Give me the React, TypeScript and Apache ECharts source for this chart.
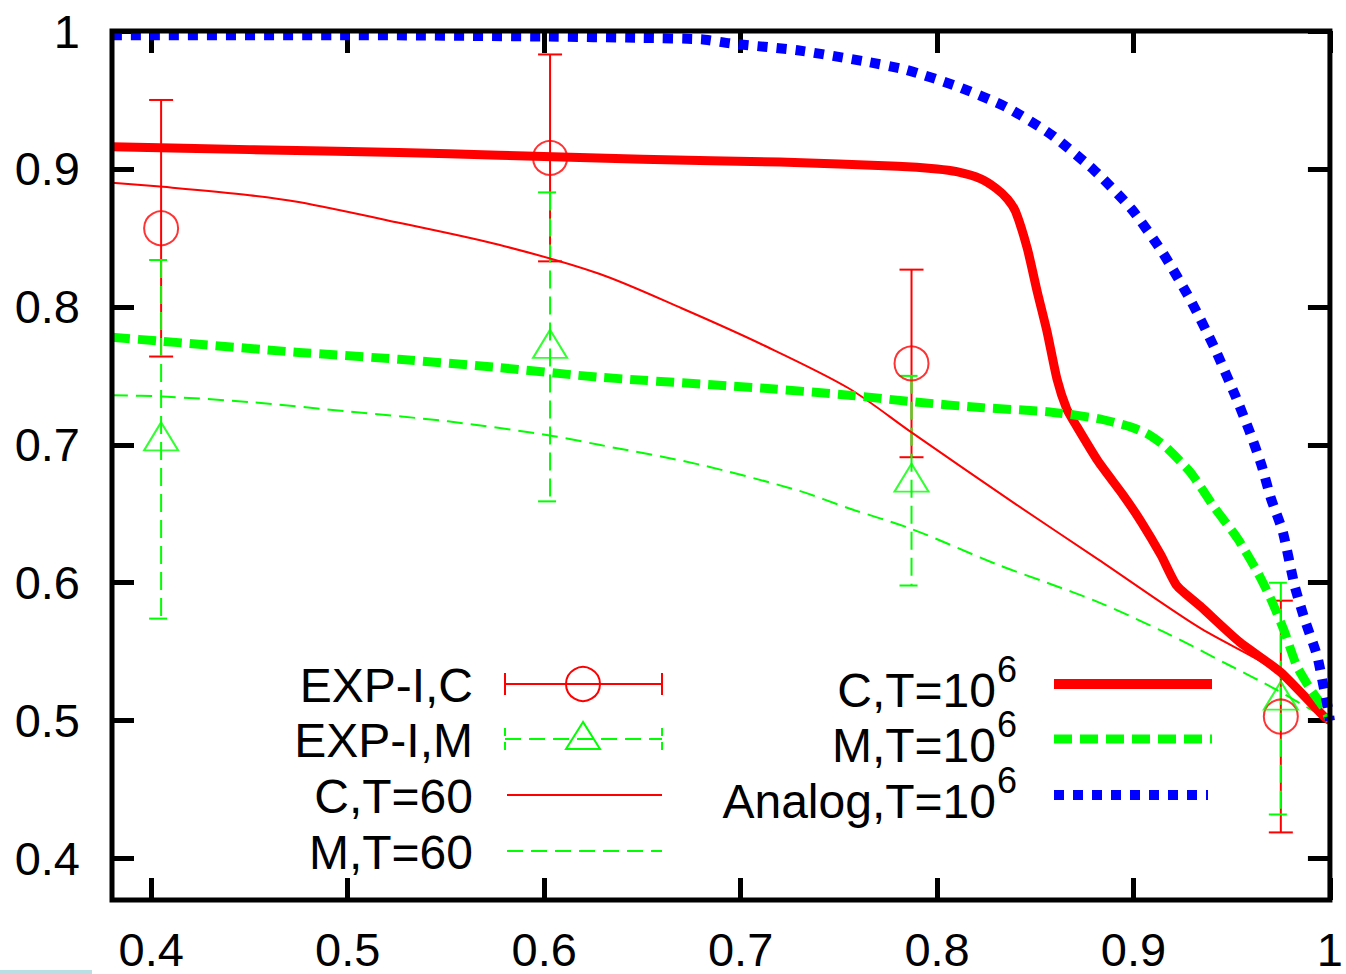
import React, { useEffect, useRef } from "react";
import * as echarts from "echarts";

const xTicks = [0.4, 0.5, 0.6, 0.7, 0.8, 0.9, 1];
const yTicks = [0.4, 0.5, 0.6, 0.7, 0.8, 0.9, 1];

// experimental points: [x, y, error]
const expC = [
  [0.405, 0.857, 0.093],
  [0.603, 0.908, 0.075],
  [0.787, 0.759, 0.068],
  [0.975, 0.503, 0.084],
];
const expM = [
  [0.405, 0.704, 0.13],
  [0.603, 0.771, 0.112],
  [0.787, 0.674, 0.076],
  [0.975, 0.516, 0.084],
];

const cT60 = [
  [0.38, 0.89], [0.406, 0.887], [0.45, 0.881], [0.475, 0.876], [0.526, 0.861],
  [0.577, 0.845], [0.628, 0.824], [0.67, 0.799], [0.712, 0.772], [0.755, 0.741],
  [0.787, 0.709], [0.84, 0.657], [0.882, 0.617], [0.933, 0.568], [0.975, 0.534],
  [1.0, 0.5],
];
const mT60 = [
  [0.38, 0.736], [0.406, 0.735], [0.45, 0.731], [0.501, 0.724], [0.551, 0.717],
  [0.602, 0.707], [0.628, 0.7], [0.678, 0.686], [0.729, 0.667], [0.755, 0.654],
  [0.787, 0.639], [0.831, 0.613], [0.856, 0.6], [0.882, 0.586], [0.916, 0.564],
  [0.949, 0.54], [0.972, 0.523], [1.0, 0.5],
];
const cT1e6 = [
  [0.38, 0.916], [0.45, 0.914], [0.526, 0.912], [0.577, 0.91], [0.65, 0.907],
  [0.72, 0.905], [0.78, 0.902], [0.8, 0.9], [0.81, 0.898], [0.822, 0.893],
  [0.83, 0.886], [0.836, 0.878], [0.84, 0.869], [0.846, 0.842], [0.851, 0.811],
  [0.856, 0.782], [0.861, 0.748], [0.866, 0.726], [0.87, 0.716], [0.882, 0.688],
  [0.895, 0.663], [0.904, 0.644], [0.914, 0.62], [0.922, 0.598], [0.934, 0.583],
  [0.954, 0.557], [0.975, 0.535], [0.997, 0.503], [1.0, 0.5],
];
const mT1e6 = [
  [0.38, 0.778], [0.406, 0.775], [0.475, 0.767], [0.526, 0.762], [0.577, 0.756],
  [0.628, 0.749], [0.712, 0.741], [0.755, 0.736], [0.789, 0.731], [0.822, 0.727],
  [0.856, 0.724], [0.882, 0.719], [0.8985, 0.713], [0.907, 0.708], [0.916, 0.699],
  [0.929, 0.68], [0.941, 0.655], [0.953, 0.632], [0.963, 0.608], [0.97, 0.588],
  [0.977, 0.564], [0.983, 0.54], [0.99, 0.523], [0.997, 0.509], [1.0, 0.5],
];
const analogT1e6 = [
  [0.38, 0.997], [0.5, 0.997], [0.6, 0.996], [0.65, 0.995], [0.68, 0.994],
  [0.695, 0.991], [0.729, 0.986], [0.763, 0.978], [0.784, 0.972], [0.81, 0.96],
  [0.835, 0.945], [0.858, 0.925], [0.88, 0.899], [0.899, 0.871], [0.915, 0.839],
  [0.929, 0.805], [0.941, 0.771], [0.952, 0.735], [0.959, 0.71], [0.965, 0.686],
  [0.97, 0.661], [0.976, 0.637], [0.982, 0.598], [0.987, 0.574], [0.9935, 0.547],
  [0.997, 0.523], [0.999, 0.509], [1.0, 0.5],
];

const RED = "#ff0000";
const GREEN = "#00ff00";
const BLUE = "#0000ff";
const FAMILY = '"Liberation Sans", Arial, Helvetica, sans-serif';
const FONT = "48px " + FAMILY;
const SUPFONT = "36px " + FAMILY;

const DASH_THIN = [16, 8];
const DASH_THICK = [18, 8];
const DOT_BLUE = [10, 9];

function text(t: string, x: number, y: number, align = "right", font = FONT) {
  return {
    type: "text",
    x,
    y,
    silent: true,
    z: 100,
    style: {
      text: t,
      font,
      fill: "#000",
      align,
      textAlign: align,
      verticalAlign: "middle",
      textVerticalAlign: "middle",
    },
  };
}
function seg(x1: number, y1: number, x2: number, y2: number, stroke: string, lineWidth: number, lineDash?: number[]) {
  return {
    type: "line",
    silent: true,
    z: 100,
    shape: { x1, y1, x2, y2 },
    style: { stroke, lineWidth, lineDash: lineDash || null, lineCap: "butt" },
  };
}

function errorBarSeries(name: string, data: number[][], color: string, dash: number[] | null) {
  return {
    name,
    type: "custom",
    xAxisIndex: 0,
    yAxisIndex: 0,
    data,
    z: 3,
    renderItem: (params: any, api: any) => {
      const x = api.value(0);
      const y = api.value(1);
      const e = api.value(2);
      const top = api.coord([x, y + e]);
      const bot = api.coord([x, y - e]);
      const cap = 12;
      const style = { stroke: color, lineWidth: 2, lineDash: dash, fill: null };
      return {
        type: "group",
        children: [
          { type: "line", shape: { x1: top[0], y1: top[1], x2: bot[0], y2: bot[1] }, style },
          { type: "line", shape: { x1: top[0] - cap, y1: top[1], x2: top[0] + cap, y2: top[1] }, style },
          { type: "line", shape: { x1: bot[0] - cap, y1: bot[1], x2: bot[0] + cap, y2: bot[1] }, style },
        ],
      };
    },
  };
}

function lineSeries(name: string, data: number[][], color: string, width: number, dash: number[] | null, z: number, smooth: number) {
  return {
    name,
    type: "line",
    data,
    showSymbol: false,
    symbol: "none",
    smooth,
    z,
    lineStyle: { color, width, type: dash ? dash : "solid", cap: "butt", join: "round" },
  };
}

export default function App() {
  const ref = useRef<HTMLDivElement>(null);
  useEffect(() => {
    const chart = echarts.init(ref.current!, null, { renderer: "svg" });
    const axisCommon = {
      type: "value",
      splitLine: { show: false },
      axisLine: { show: false },
    };
    const tickStyle = { show: true, inside: true, length: 22, lineStyle: { color: "#000", width: 5 } };
    const labelStyle = {
      fontSize: 47,
      fontFamily: FAMILY,
      color: "#000",
      formatter: (v: number) => String(Math.round(v * 10) / 10),
    };

    const lx = 505, rx = 662, lmid = 583;
    const r1 = 684, r2 = 739, r3 = 795, r4 = 851;
    const Lx = 1054, Rx = 1212;

    const graphic: any[] = [
      // left legend
      text("EXP-I,C", 473, r1 + 1),
      seg(lx, r1, rx, r1, RED, 2),
      seg(lx, r1 - 11, lx, r1 + 11, RED, 2),
      seg(rx, r1 - 11, rx, r1 + 11, RED, 2),
      { type: "circle", silent: true, z: 100, shape: { cx: lmid, cy: r1, r: 17 }, style: { fill: "none", stroke: RED, lineWidth: 2 } },
      text("EXP-I,M", 473, r2 + 1),
      seg(lx, r2, rx, r2, GREEN, 2, DASH_THIN),
      seg(lx, r2 - 11, lx, r2 + 11, GREEN, 2, [8, 6]),
      seg(rx, r2 - 11, rx, r2 + 11, GREEN, 2, [8, 6]),
      {
        type: "polygon", silent: true, z: 100,
        shape: { points: [[lmid, r2 - 17], [lmid - 17, r2 + 10], [lmid + 17, r2 + 10]] },
        style: { fill: "none", stroke: GREEN, lineWidth: 2 },
      },
      text("C,T=60", 473, r3 + 1),
      seg(lx + 2, r3, rx, r3, RED, 2),
      text("M,T=60", 473, r4 + 1),
      seg(lx + 2, r4, rx, r4, GREEN, 2, DASH_THIN),
      // right legend
      text("C,T=10", 996, r1 + 6),
      text("6", 997, r1 - 15, "left", SUPFONT),
      seg(Lx, r1, Rx, r1, RED, 10),
      text("M,T=10", 996, r2 + 6),
      text("6", 997, r2 - 15, "left", SUPFONT),
      seg(Lx, r2, Rx, r2, GREEN, 9, DASH_THICK),
      text("Analog,T=10", 996, r3 + 6),
      text("6", 997, r3 - 15, "left", SUPFONT),
      seg(Lx, r3, Rx - 4, r3, BLUE, 10, DOT_BLUE),
      // artifact strip at bottom-left
      { type: "rect", silent: true, shape: { x: 0, y: 970, width: 92, height: 4 }, style: { fill: "#b8e0e4" } },
    ];

    chart.setOption({
      animation: false,
      backgroundColor: "#ffffff",
      grid: {
        left: 112,
        right: 13,
        top: 31,
        bottom: 74,
        show: true,
        borderColor: "#000",
        borderWidth: 5,
        backgroundColor: "transparent",
        z: 10,
      },
      xAxis: [
        {
          ...axisCommon,
          position: "bottom",
          min: 0.38,
          max: 1,
          axisTick: { ...tickStyle, customValues: xTicks },
          axisLabel: { ...labelStyle, margin: 29, lineHeight: 40, customValues: xTicks },
        },
        {
          ...axisCommon,
          position: "top",
          min: 0.38,
          max: 1,
          axisTick: { ...tickStyle, customValues: xTicks },
          axisLabel: { show: false, customValues: xTicks },
        },
      ],
      yAxis: [
        {
          ...axisCommon,
          position: "left",
          min: 0.37,
          max: 1,
          axisTick: { ...tickStyle, customValues: yTicks },
          axisLabel: { ...labelStyle, margin: 32, customValues: yTicks },
        },
        {
          ...axisCommon,
          position: "right",
          min: 0.37,
          max: 1,
          axisTick: { ...tickStyle, customValues: yTicks },
          axisLabel: { show: false, customValues: yTicks },
        },
      ],
      series: [
        errorBarSeries("EXP-I,C", expC, RED, null),
        {
          name: "EXP-I,C pts",
          type: "scatter",
          data: expC.map((d) => [d[0], d[1]]),
          symbol: "circle",
          symbolSize: 34,
          z: 4,
          itemStyle: { color: "rgba(0,0,0,0)", borderColor: RED, borderWidth: 2 },
        },
        errorBarSeries("EXP-I,M", expM, GREEN, [18, 8]),
        {
          name: "EXP-I,M pts",
          type: "scatter",
          data: expM.map((d) => [d[0], d[1]]),
          symbol: "triangle",
          symbolSize: [34, 28],
          symbolOffset: [0, -3],
          z: 4,
          itemStyle: { color: "rgba(0,0,0,0)", borderColor: GREEN, borderWidth: 2 },
        },
        lineSeries("C,T=60", cT60, RED, 2, null, 5, 0.3),
        lineSeries("M,T=60", mT60, GREEN, 2, DASH_THIN, 5, 0.3),
        lineSeries("C,T=10^6", cT1e6, RED, 9, null, 6, 0.2),
        lineSeries("M,T=10^6", mT1e6, GREEN, 9, DASH_THICK, 7, 0.2),
        lineSeries("Analog,T=10^6", analogT1e6, BLUE, 10, DOT_BLUE, 8, 0.2),
      ],
      graphic,
    });
    return () => chart.dispose();
  }, []);
  return (
    <div
      ref={ref}
      style={{ position: "absolute", left: 0, top: 0, width: 1346, height: 974, background: "#fff" }}
    />
  );
}
